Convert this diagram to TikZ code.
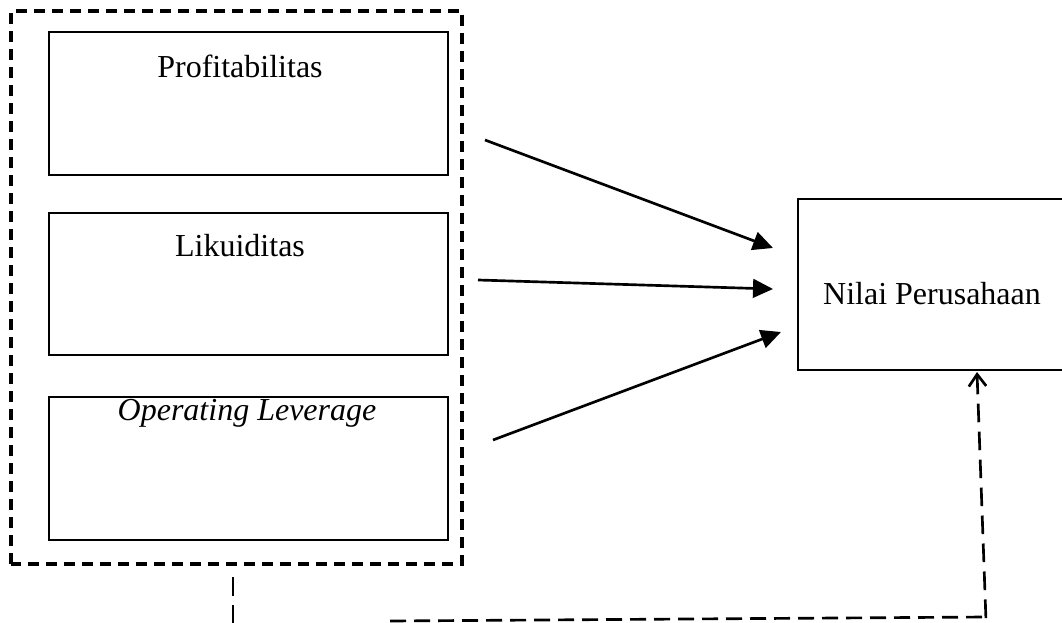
\documentclass[tikz,border=0pt]{standalone}
\usepackage{fontspec}
\setmainfont{Liberation Serif}
\usetikzlibrary{arrows.meta}
\begin{document}
\begin{tikzpicture}[x=0.75pt,y=-0.75pt,
  box/.style={draw, line width=1.9pt, rectangle, inner sep=0pt},
  lbl/.style={font=\fontsize{24}{28}\selectfont, inner sep=0pt},
  outer/.style={draw, line width=2.5pt, dash pattern=on 8pt off 5.5pt},
  conn/.style={line width=2pt, dash pattern=on 12pt off 6pt},
  connv/.style={line width=2pt, dash pattern=on 14pt off 7pt},
  arr/.style={line width=2pt, -{Triangle[length=15pt,width=14pt]}},
  open/.style={{Straight Barb[length=9pt,width=13pt,line width=2pt]}-}]
\useasboundingbox (0,0) rectangle (1062,623);
\clip (0,0) rectangle (1062,623);
% outer dashed group
\draw[outer] (11,564) -- (11,11) -- (462,11) -- (462,564) -- cycle;
% inner boxes
\node[box, minimum width=399*0.75pt, minimum height=143*0.75pt] (p) at (248.5,103.5) {};
\node[box, minimum width=399*0.75pt, minimum height=142*0.75pt] (l) at (248.5,284) {};
\node[box, minimum width=399*0.75pt, minimum height=143*0.75pt] (o) at (248.5,468.5) {};
\node[lbl] (pt) at (240,66) {Profitabilitas};
\node[lbl] (lt) at (240,246) {Likuiditas};
\node[lbl] (ot) at (247,413) {\itshape Operating Leverage};
% right box
\node[box, minimum width=280*0.75pt, minimum height=171*0.75pt] (n) at (938,284.5) {};
\node[lbl] (nt) at (932,294) {Nilai Perusahaan};
% arrows
\coordinate (a1) at (485,140); \coordinate (b1) at (773,248);
\coordinate (a2) at (478,280); \coordinate (b2) at (773,289);
\coordinate (a3) at (493,440); \coordinate (b3) at (781,332);
\draw[arr] (a1) -- (b1);
\draw[arr] (a2) -- (b2);
\draw[arr] (a3) -- (b3);
% dashed feedback connector
\coordinate (d0) at (233,577); \coordinate (d1) at (233,630);
\coordinate (h0) at (390,621); \coordinate (h1) at (986,617);
\coordinate (v0) at (986,621); \coordinate (v1) at (977,372);
\draw[connv] (d0) -- (d1);
\draw[conn] (h0) -- (h1);
\draw[connv, open] (v1) -- (v0);
\end{tikzpicture}
\end{document}
